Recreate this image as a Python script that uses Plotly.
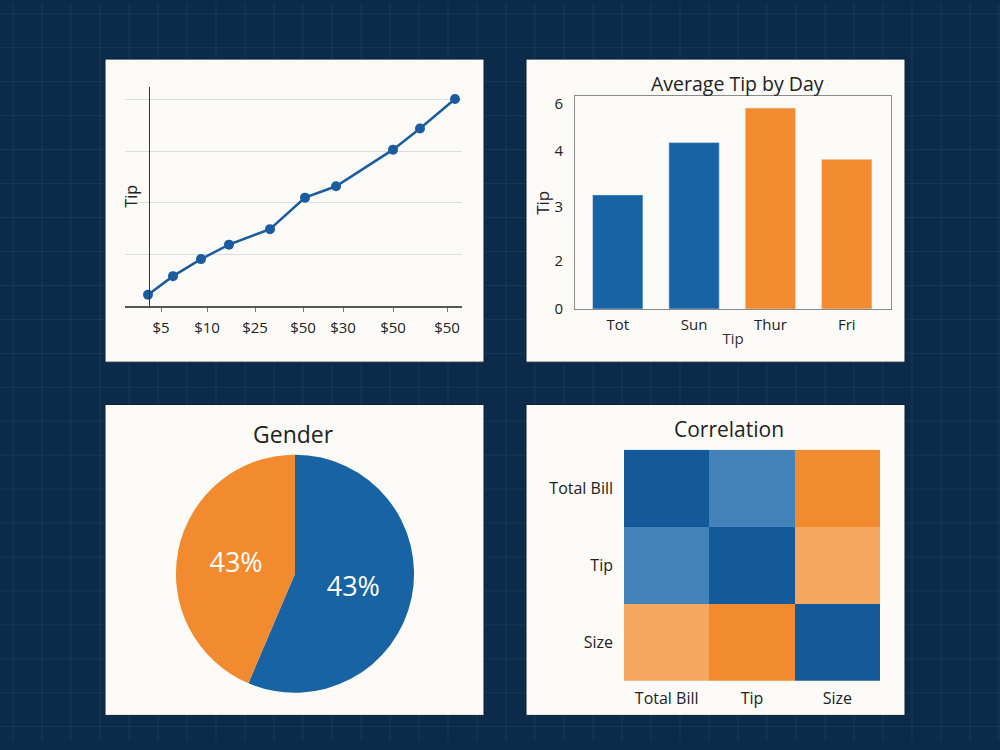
import plotly.graph_objects as go

# ---------------- data ----------------
line_x = [2.3, 4.8, 7.6, 10.4, 14.5, 18.0, 21.1, 26.8, 29.5, 33.0]
line_tip = [0.22, 0.58, 0.91, 1.19, 1.49, 2.10, 2.32, 3.03, 3.44, 4.01]
line_tickvals = [3.6, 8.2, 13.0, 17.8, 21.8, 26.8, 32.2]
line_ticktext = ["$5", "$10", "$25", "$50", "$30", "$50", "$50"]

bar_days = ["Tot", "Sun", "Thur", "Fri"]
bar_tips = [3.34, 4.87, 5.88, 4.38]
bar_tickvals = [0, 1.41, 3.0, 4.64, 6.0]
bar_ticktext = ["0", "2", "3", "4", "6"]

pie_labels = ["Male", "Female"]
pie_values = [56.4, 43.6]
pie_text = ["43%", "43%"]

corr_vars = ["Total Bill", "Tip", "Size"]
corr_z = [[1.0, 0.68, -0.6],
          [0.68, 1.0, -0.35],
          [-0.35, -0.6, 1.0]]

# ---------------- style ----------------
BLUE = "#1763a4"
ORANGE = "#f28a30"
BG = "#0c2a49"
GRID_BG = "#1a3a5c"
PANEL = "#fbfaf6"
TXT = "#222222"
FONT = "Open Sans"

W, H = 1000, 750
def fx(p):
    return p / W
def fy(p):
    return 1 - p / H

fig = go.Figure()

# line chart
fig.add_trace(go.Scatter(
    x=line_x, y=line_tip, mode="lines+markers",
    line=dict(color="#1a5c9e", width=2.5),
    marker=dict(color="#1a5c9e", size=10),
    xaxis="x", yaxis="y", showlegend=False))

# bar chart
fig.add_trace(go.Bar(
    x=bar_days, y=bar_tips,
    marker=dict(color=[BLUE, BLUE, ORANGE, ORANGE]),
    width=0.66, xaxis="x2", yaxis="y2", showlegend=False))

# pie
fig.add_trace(go.Pie(
    labels=pie_labels, values=pie_values, text=pie_text,
    textinfo="text", sort=False, direction="clockwise", rotation=0,
    marker=dict(colors=[BLUE, ORANGE]),
    textfont=dict(color="white", size=27, family=FONT),
    insidetextorientation="horizontal",
    domain=dict(x=[fx(174), fx(416)], y=[fy(701), fy(459)]),
    showlegend=False))

# heatmap
fig.add_trace(go.Heatmap(
    z=corr_z, x=corr_vars, y=corr_vars,
    zmin=-0.6, zmax=1.0,
    colorscale=[[0, "#f28a2f"], [0.156, "#f5a660"], [0.8, "#4383b9"], [1, "#145a9a"]],
    showscale=False, xaxis="x3", yaxis="y3"))

# background grid + panels
shapes = []
x = 13
while x < W:
    shapes.append(dict(type="line", xref="paper", yref="paper", x0=fx(x), x1=fx(x),
                       y0=0, y1=1, line=dict(color=GRID_BG, width=1), layer="below"))
    x += 29
y = 11
while y < H:
    shapes.append(dict(type="line", xref="paper", yref="paper", x0=0, x1=1,
                       y0=fy(y), y1=fy(y), line=dict(color=GRID_BG, width=1), layer="below"))
    y += 34.5
for (x0, y0, x1, y1) in [(105, 57, 484, 365), (526, 57, 905, 365),
                         (105, 408, 484, 724), (526, 408, 905, 724)]:
    shapes.append(dict(type="rect", xref="paper", yref="paper",
                       x0=fx(x0), x1=fx(x1), y0=fy(y1), y1=fy(y0),
                       fillcolor=PANEL, line=dict(color="#0a2035", width=1), layer="below"))

annotations = [
    dict(text="Average Tip by Day", x=fx(737), y=fy(82), xref="paper", yref="paper",
         xanchor="center", yanchor="middle",
         showarrow=False, font=dict(size=19.5, color=TXT, family=FONT)),
    dict(text="Gender", x=fx(293), y=fy(438), xref="paper", yref="paper",
         xanchor="center", yanchor="middle",
         showarrow=False, font=dict(size=23, color=TXT, family=FONT)),
    dict(text="Correlation", x=fx(729), y=fy(433), xref="paper", yref="paper",
         xanchor="center", yanchor="middle",
         showarrow=False, font=dict(size=21, color=TXT, family=FONT)),
]

tickfont = dict(size=15, color=TXT, family=FONT)

fig.update_layout(
    width=W, height=H, margin=dict(l=0, r=0, t=0, b=0),
    paper_bgcolor=BG, plot_bgcolor="rgba(0,0,0,0)",
    font=dict(family=FONT, color=TXT),
    shapes=shapes, annotations=annotations,
    xaxis=dict(domain=[fx(125), fx(462)], anchor="y", range=[0, 33.7],
               tickvals=line_tickvals, ticktext=line_ticktext, tickfont=tickfont,
               showline=True, linecolor="#555555", linewidth=1.5,
               ticks="outside", ticklen=4, tickcolor="#777777",
               showgrid=False, zeroline=False, ticklabelstandoff=3),
    yaxis=dict(domain=[fy(308), fy(85)], anchor="free", position=fx(149),
               range=[0, 4.25], tickvals=[0, 1, 2, 3, 4], showticklabels=False,
               showgrid=True, gridcolor="#dcdcdc", gridwidth=1, zeroline=False,
               showline=True, linecolor="#333333", linewidth=1.2,
               title=dict(text="Tip", font=dict(size=16, color=TXT, family=FONT), standoff=6)),
    xaxis2=dict(domain=[fx(575), fx(891)], anchor="y2", type="category",
                range=[-0.56, 3.58], tickfont=tickfont,
                showline=True, mirror=True, linecolor="#8a8a8a", linewidth=1,
                showgrid=False, zeroline=False, ticks="", ticklabelstandoff=2,
                title=dict(text="Tip", font=dict(size=15, color="#333333", family=FONT), standoff=0)),
    yaxis2=dict(domain=[fy(311), fy(95)], anchor="x2", range=[0, 6.22],
                tickvals=bar_tickvals, ticktext=bar_ticktext, tickfont=tickfont,
                showline=True, mirror=True, linecolor="#8a8a8a", linewidth=1,
                showgrid=False, zeroline=False, ticks="", ticklabelstandoff=8,
                title=dict(text="Tip", font=dict(size=17, color=TXT, family=FONT), standoff=0)),
    xaxis3=dict(domain=[fx(624), fx(880)], anchor="y3", tickfont=dict(size=16, color=TXT, family=FONT),
                showgrid=False, zeroline=False, showline=False, ticks="", ticklabelstandoff=6),
    yaxis3=dict(domain=[fy(689), fy(454)], anchor="x3", autorange="reversed",
                tickfont=dict(size=16, color=TXT, family=FONT),
                showgrid=False, zeroline=False, showline=False, ticks="", ticklabelstandoff=10),
)

fig.write_html("out.html")
